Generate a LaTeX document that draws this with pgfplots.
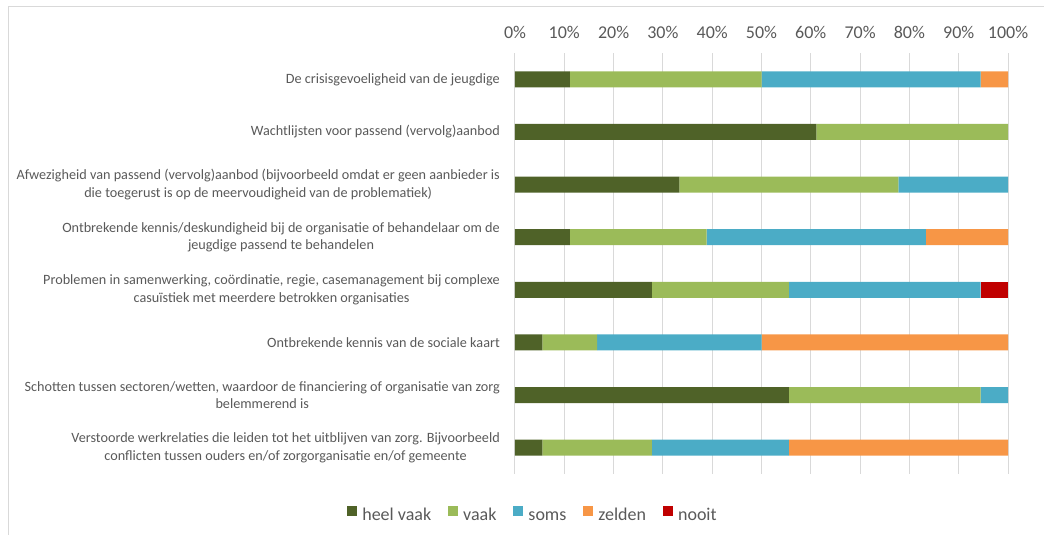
\documentclass[border=0pt]{standalone}
\usepackage{pgfplots}
\pgfplotsset{compat=1.18}
\usepackage{fontspec}
\setmainfont{Carlito}
\definecolor{txt}{HTML}{595959}
\definecolor{gridc}{HTML}{D9D9D9}
\definecolor{c1}{HTML}{4F6228}
\definecolor{c2}{HTML}{9BBB59}
\definecolor{c3}{HTML}{4BACC6}
\definecolor{c4}{HTML}{F79646}
\definecolor{c5}{HTML}{C00000}

\begin{document}
\begin{tikzpicture}
\path[use as bounding box] (0pt,0pt) rectangle (1044pt,535pt);
\draw[gridc, line width=1pt] (8.5pt,-10pt) rectangle (1060pt,528.5pt);
\begin{axis}[
  at={(515pt,61pt)}, anchor=south west,
  scale only axis, width=493pt, height=421pt,
  xbar stacked, bar width=16pt,
  xmin=0, xmax=100, ymin=-0.5, ymax=7.5, y dir=reverse,
  axis line style={draw=none},
  major tick length=0pt,
  xtick={0,10,...,100},
  xticklabels={0\%,10\%,20\%,30\%,40\%,50\%,60\%,70\%,80\%,90\%,100\%},
  xticklabel pos=upper,
  xticklabel style={font=\fontsize{18}{22}\selectfont, text=txt, anchor=base, yshift=15pt, inner sep=0pt},
  xmajorgrids, grid style={gridc, line width=1pt},
  ytick={0,...,7},
  yticklabels={
    {De crisisgevoeligheid van de jeugdige},
    {Wachtlijsten voor passend (vervolg)aanbod},
    {Afwezigheid van passend (vervolg)aanbod (bijvoorbeeld omdat er geen aanbieder is\\die toegerust is op de meervoudigheid van de problematiek)},
    {Ontbrekende kennis/deskundigheid bij de organisatie of behandelaar om de\\jeugdige passend te behandelen},
    {Problemen in samenwerking, coördinatie, regie, casemanagement bij complexe\\casuïstiek met meerdere betrokken organisaties},
    {Ontbrekende kennis van de sociale kaart},
    {Schotten tussen sectoren/wetten, waardoor de financiering of organisatie van zorg\\belemmerend is},
    {Verstoorde werkrelaties die leiden tot het uitblijven van zorg. Bijvoorbeeld\\conflicten tussen ouders en/of zorgorganisatie en/of gemeente}
  },
  yticklabel style={font=\fontsize{14.2}{17.2}\selectfont, text=txt, align=center, inner sep=0pt, xshift=-15pt},
  legend columns=-1,
  legend style={at={(axis description cs:0.0365,-0.1)}, anchor=center, draw=none, fill=none,
    font=\fontsize{18}{22}\selectfont, text=txt,
    nodes={inner sep=2pt, text height=12pt, text depth=4pt},
    /tikz/every even column/.append style={column sep=15pt}},
  legend image code/.code={\fill[#1] (0pt,0pt) rectangle (10pt,10pt); \path (13pt,0pt);},
]
\addplot[fill=c1, draw=none] coordinates {(11.111,0) (61.111,1) (33.333,2) (11.111,3) (27.778,4) (5.556,5) (55.556,6) (5.556,7)};
\addplot[fill=c2, draw=none] coordinates {(38.889,0) (38.889,1) (44.444,2) (27.778,3) (27.778,4) (11.111,5) (38.889,6) (22.222,7)};
\addplot[fill=c3, draw=none] coordinates {(44.444,0) (0,1) (22.222,2) (44.444,3) (38.889,4) (33.333,5) (5.556,6) (27.778,7)};
\addplot[fill=c4, draw=none] coordinates {(5.556,0) (0,1) (0,2) (16.667,3) (0,4) (50,5) (0,6) (44.444,7)};
\addplot[fill=c5, draw=none] coordinates {(0,0) (0,1) (0,2) (0,3) (5.556,4) (0,5) (0,6) (0,7)};
\legend{heel vaak, vaak, soms, zelden, nooit}
\end{axis}
\end{tikzpicture}
\end{document}
